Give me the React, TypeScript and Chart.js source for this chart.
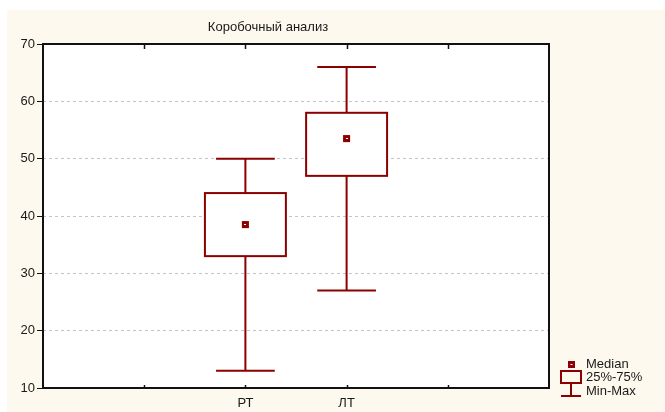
import React, { useEffect, useRef } from "react";
import { Chart, registerables } from "chart.js";

Chart.register(...registerables);

const titleText = "Коробочный анализ";
const categories = ["РТ", "ЛТ"];
const categoryPositions = [2, 3];
const minValues = [13, 27];
const q1Values = [33, 47];
const medianValues = [38.5, 53.5];
const q3Values = [44, 58];
const maxValues = [50, 66];
const xTickPositions = [1, 2, 3, 4];
const legendLabels = ["Median", "25%-75%", "Min-Max"];

const DARK_RED = "#8b0000";
const FONT = '"Liberation Sans", Arial, sans-serif';
const BOX_WIDTH = 0.8;
const CAP_WIDTH = 0.58;

const boxPlugin = {
  id: "boxPlugin",
  beforeDraw(chart: any) {
    const { ctx, chartArea } = chart;
    ctx.save();
    ctx.fillStyle = "#fdf9ee";
    ctx.fillRect(7, 10, chart.width - 7, chart.height - 10);
    ctx.fillStyle = "#ffffff";
    ctx.fillRect(chartArea.left, chartArea.top, chartArea.right - chartArea.left, chartArea.bottom - chartArea.top);
    ctx.restore();
  },
  beforeDatasetsDraw(chart: any) {
    const { ctx } = chart;
    const xs = chart.scales.x;
    const ys = chart.scales.y;
    ctx.save();
    ctx.strokeStyle = DARK_RED;
    ctx.lineWidth = 2;
    categoryPositions.forEach((pos, i) => {
      const cx = xs.getPixelForValue(pos);
      const bl = xs.getPixelForValue(pos - BOX_WIDTH / 2);
      const br = xs.getPixelForValue(pos + BOX_WIDTH / 2);
      const cl = xs.getPixelForValue(pos - CAP_WIDTH / 2);
      const cr = xs.getPixelForValue(pos + CAP_WIDTH / 2);
      const yMin = ys.getPixelForValue(minValues[i]);
      const yMax = ys.getPixelForValue(maxValues[i]);
      const yQ1 = ys.getPixelForValue(q1Values[i]);
      const yQ3 = ys.getPixelForValue(q3Values[i]);
      ctx.beginPath();
      ctx.moveTo(cx, yMax);
      ctx.lineTo(cx, yQ3);
      ctx.moveTo(cx, yQ1);
      ctx.lineTo(cx, yMin);
      ctx.moveTo(cl, yMax);
      ctx.lineTo(cr, yMax);
      ctx.moveTo(cl, yMin);
      ctx.lineTo(cr, yMin);
      ctx.stroke();
      ctx.fillStyle = "#ffffff";
      ctx.fillRect(bl, yQ3, br - bl, yQ1 - yQ3);
      ctx.strokeRect(bl, yQ3, br - bl, yQ1 - yQ3);
    });
    ctx.restore();
  },
  afterDatasetsDraw(chart: any) {
    const { ctx, chartArea } = chart;
    const xs = chart.scales.x;
    const ys = chart.scales.y;
    ctx.save();
    // white dash inside median markers
    ctx.fillStyle = "#ffffff";
    categoryPositions.forEach((pos, i) => {
      const cx = xs.getPixelForValue(pos);
      const cy = ys.getPixelForValue(medianValues[i]);
      ctx.fillRect(Math.round(cx) - 1, Math.round(cy) - 1, 2, 1);
    });
    // frame
    ctx.strokeStyle = "#111111";
    ctx.lineWidth = 2;
    ctx.strokeRect(chartArea.left, chartArea.top, chartArea.right - chartArea.left, chartArea.bottom - chartArea.top);
    // top and bottom ticks
    ctx.lineWidth = 1.5;
    ctx.beginPath();
    xTickPositions.forEach((p) => {
      const x = Math.round(xs.getPixelForValue(p)) + 0.5;
      ctx.moveTo(x, chartArea.top);
      ctx.lineTo(x, chartArea.top + 5);
      ctx.moveTo(x, chartArea.bottom);
      ctx.lineTo(x, chartArea.bottom - 3);
    });
    ctx.stroke();
    // title
    ctx.fillStyle = "#1a1a1a";
    ctx.font = "13px " + FONT;
    ctx.textAlign = "center";
    ctx.textBaseline = "middle";
    ctx.fillText(titleText, 268, 27);
    // legend
    const lx = 571;
    ctx.fillStyle = DARK_RED;
    ctx.fillRect(lx - 3, 361, 7, 7);
    ctx.fillStyle = "#ffffff";
    ctx.fillRect(lx - 0.5, 364, 2, 1);
    ctx.strokeStyle = DARK_RED;
    ctx.lineWidth = 2;
    ctx.strokeRect(lx - 10, 371, 20, 12);
    ctx.beginPath();
    ctx.moveTo(lx, 383);
    ctx.lineTo(lx, 396);
    ctx.moveTo(lx - 10, 396);
    ctx.lineTo(lx + 10, 396);
    ctx.stroke();
    ctx.fillStyle = "#1a1a1a";
    ctx.font = "13px " + FONT;
    ctx.textAlign = "left";
    ctx.textBaseline = "middle";
    const ly = [364, 377.5, 391.5];
    legendLabels.forEach((t, i) => ctx.fillText(t, 586, ly[i]));
    ctx.restore();
  },
};

export default function App() {
  const ref = useRef<HTMLCanvasElement | null>(null);
  useEffect(() => {
    if (!ref.current) return;
    const chart = new Chart(ref.current, {
      type: "scatter",
      data: {
        datasets: [
          {
            label: "Median",
            data: categoryPositions.map((p, i) => ({ x: p, y: medianValues[i] })),
            pointStyle: "rect",
            pointRadius: 5,
            pointHoverRadius: 5,
            backgroundColor: DARK_RED,
            borderWidth: 0,
          },
        ],
      },
      options: {
        animation: false,
        responsive: false,
        devicePixelRatio: 1,
        layout: { padding: { left: 0, top: 44, right: 116, bottom: 0 } },
        plugins: { legend: { display: false }, tooltip: { enabled: false }, title: { display: false } },
        scales: {
          x: {
            type: "linear",
            min: 0,
            max: 5,
            afterFit: (s: any) => { s.height = 24; },
            grid: { display: false, drawTicks: false },
            border: { display: false },
            ticks: {
              stepSize: 1,
              autoSkip: false,
              maxRotation: 0,
              padding: 8,
              color: "#1a1a1a",
              font: { family: FONT, size: 13 },
              callback: (v: any) => {
                const idx = categoryPositions.indexOf(Number(v));
                return idx >= 0 ? categories[idx] : "";
              },
            },
          },
          y: {
            type: "linear",
            min: 10,
            max: 70,
            afterFit: (s: any) => { s.width = 43; },
            grid: { color: "#c4c4c4", lineWidth: 1, tickLength: 6, tickColor: "#111111", tickWidth: 1 },
            border: { display: false, dash: [3, 3] },
            ticks: {
              stepSize: 10,
              padding: 2,
              color: "#1a1a1a",
              font: { family: FONT, size: 13 },
            },
          },
        },
      } as any,
      plugins: [boxPlugin],
    });
    return () => chart.destroy();
  }, []);
  return (
    <div style={{ position: "fixed", left: 0, top: 0, width: 665, height: 412, background: "#ffffff" }}>
      <canvas ref={ref} width={665} height={412} style={{ display: "block" }} />
    </div>
  );
}
